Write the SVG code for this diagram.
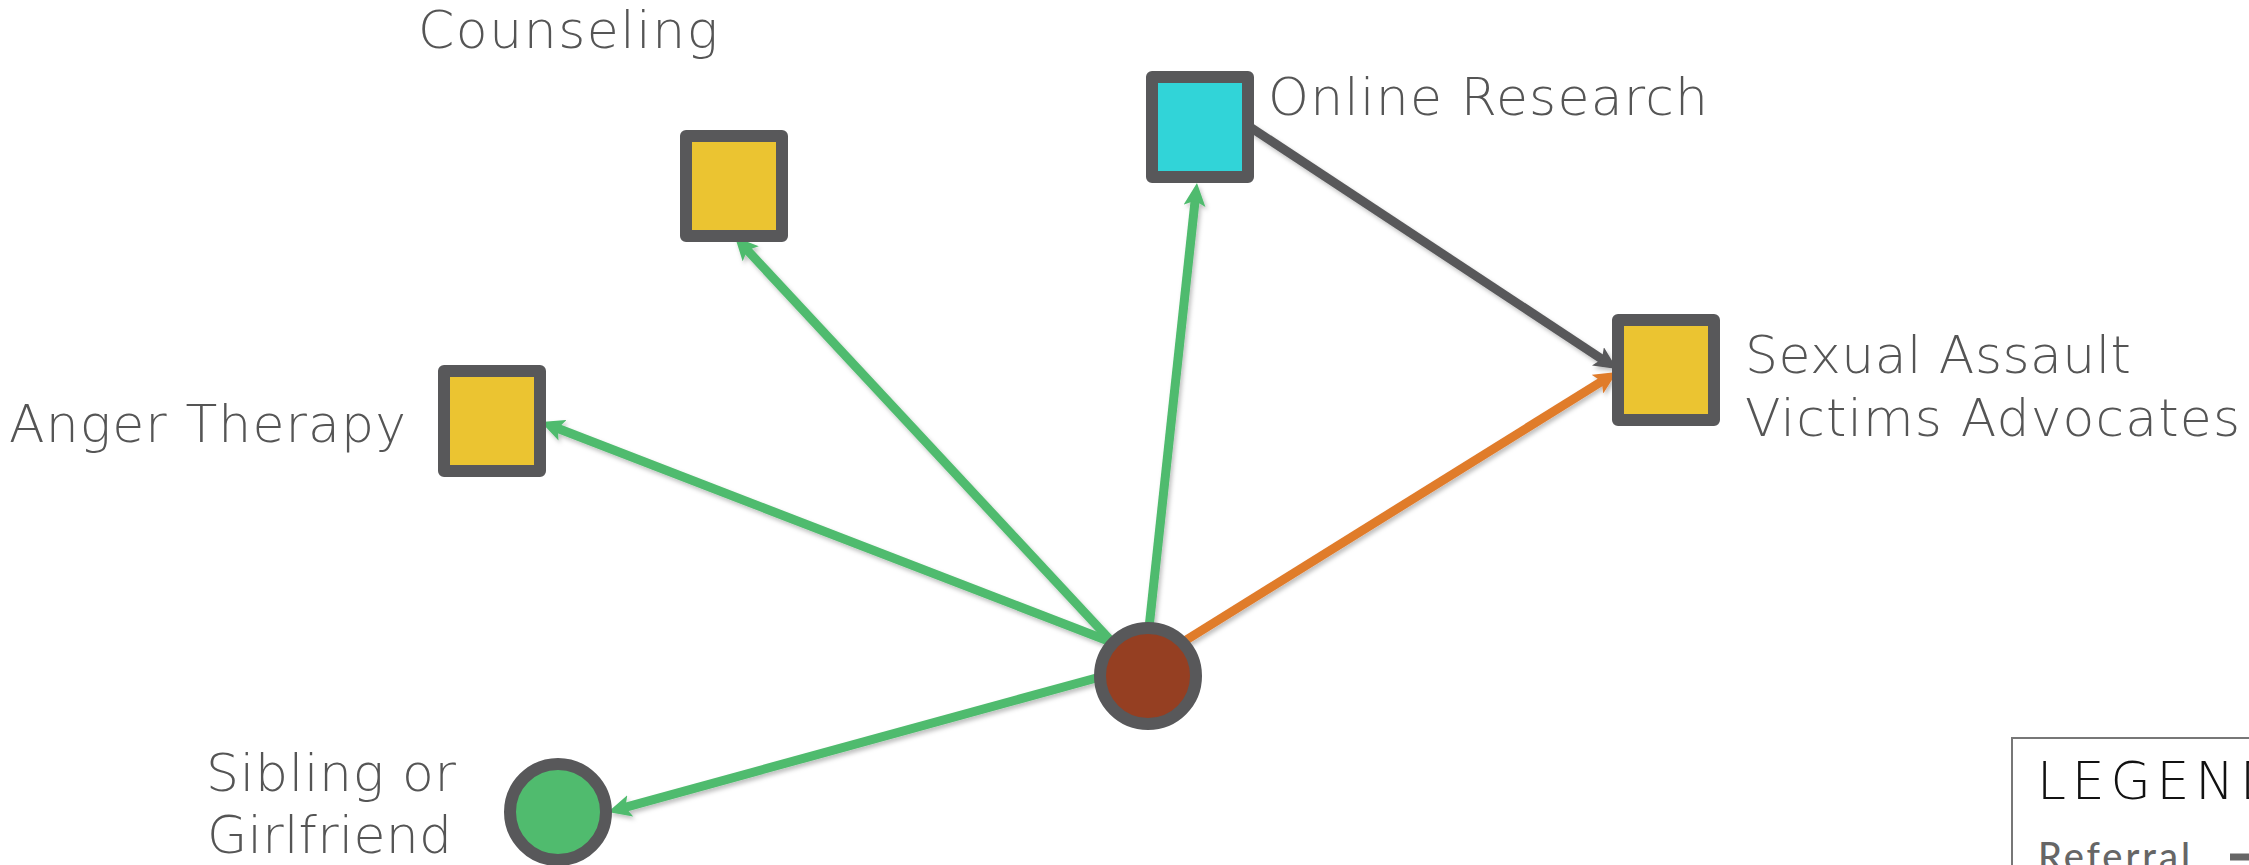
<svg xmlns="http://www.w3.org/2000/svg" width="2249" height="865" viewBox="0 0 2249 865">
<defs>
<style>
.lbl{font-family:"DejaVu Sans",Lato,"Liberation Sans",sans-serif;font-weight:200;font-size:52px;fill:#555555;}
.box{stroke:#58585a;stroke-width:12;stroke-linejoin:round;}
.circ{stroke:#58585a;stroke-width:12;}
.edge{fill:none;stroke-width:9;}
.g{stroke:#50bb6e;}
.o{stroke:#e07b2c;}
.d{stroke:#58585a;}
</style>
<marker id="ag" markerUnits="userSpaceOnUse" markerWidth="24" markerHeight="22" refX="11" refY="11" orient="auto"><path d="M0,0 L23,11 L0,22 L5,11 Z" fill="#50bb6e"/></marker>
<marker id="ao" markerUnits="userSpaceOnUse" markerWidth="24" markerHeight="22" refX="11" refY="11" orient="auto"><path d="M0,0 L23,11 L0,22 L5,11 Z" fill="#e07b2c"/></marker>
<marker id="ad" markerUnits="userSpaceOnUse" markerWidth="24" markerHeight="22" refX="11" refY="11" orient="auto"><path d="M0,0 L23,11 L0,22 L5,11 Z" fill="#58585a"/></marker>
<filter id="sh" x="-10%" y="-10%" width="120%" height="120%"><feDropShadow dx="2" dy="3" stdDeviation="2" flood-color="#000" flood-opacity="0.25"/></filter>
</defs>
<rect width="2249" height="865" fill="#ffffff"/>
<g id="connectors" filter="url(#sh)">
<line class="edge g" x1="1113" y1="643" x2="743.2" y2="245.8" marker-end="url(#ag)"/>
<line class="edge g" x1="1111" y1="642" x2="552.2" y2="426.3" marker-end="url(#ag)"/>
<line class="edge g" x1="1149" y1="628" x2="1195.7" y2="194.9" marker-end="url(#ag)"/>
<line class="edge d" x1="1250" y1="127" x2="1607" y2="362.4" marker-end="url(#ad)"/>
<line class="edge o" x1="1183" y1="642" x2="1606.8" y2="378.3" marker-end="url(#ao)"/>
<line class="edge g" x1="1100" y1="677" x2="619.6" y2="808.8" marker-end="url(#ag)"/>
</g>
<g id="node-counseling">
<rect class="box" x="686" y="136" width="96" height="100" fill="#ebc431"/>
<text class="lbl" x="418" y="48" textLength="300">Counseling</text>
</g>
<g id="node-anger">
<rect class="box" x="444" y="371" width="96" height="100" fill="#ebc431"/>
<text class="lbl" x="9" y="442" textLength="397">Anger Therapy</text>
</g>
<g id="node-online">
<rect class="box" x="1152" y="77" width="96" height="100" fill="#31d4d8"/>
<text class="lbl" x="1268" y="115" textLength="440">Online Research</text>
</g>
<g id="node-sexual-assault">
<rect class="box" x="1618" y="320" width="96" height="100" fill="#ebc431"/>
<text class="lbl" x="1745" y="373" textLength="386">Sexual Assault</text>
<text class="lbl" x="1745" y="436" textLength="495">Victims Advocates</text>
</g>
<g id="node-center">
<circle class="circ" cx="1148" cy="676" r="48" fill="#953f22"/>
</g>
<g id="node-sibling">
<circle class="circ" cx="558" cy="812" r="48" fill="#50bb6e"/>
<text class="lbl" x="206" y="791" textLength="250">Sibling or</text>
<text class="lbl" x="207" y="853" textLength="245">Girlfriend</text>
</g>
<g id="legend">
<rect x="2012" y="738" width="320" height="220" fill="none" stroke="#777" stroke-width="2"/>
<text x="2037" y="799" textLength="243" style="font-family:'DejaVu Sans',Lato,'Liberation Sans',sans-serif;font-weight:200;font-size:52px;fill:#111;">LEGEND</text>
<text x="2038" y="870" textLength="152" style="font-family:Lato,'Liberation Sans',sans-serif;font-weight:500;font-size:38px;fill:#666;">Referral</text>
<line x1="2230" y1="857" x2="2260" y2="857" stroke="#666" stroke-width="7"/>
</g>
</svg>
